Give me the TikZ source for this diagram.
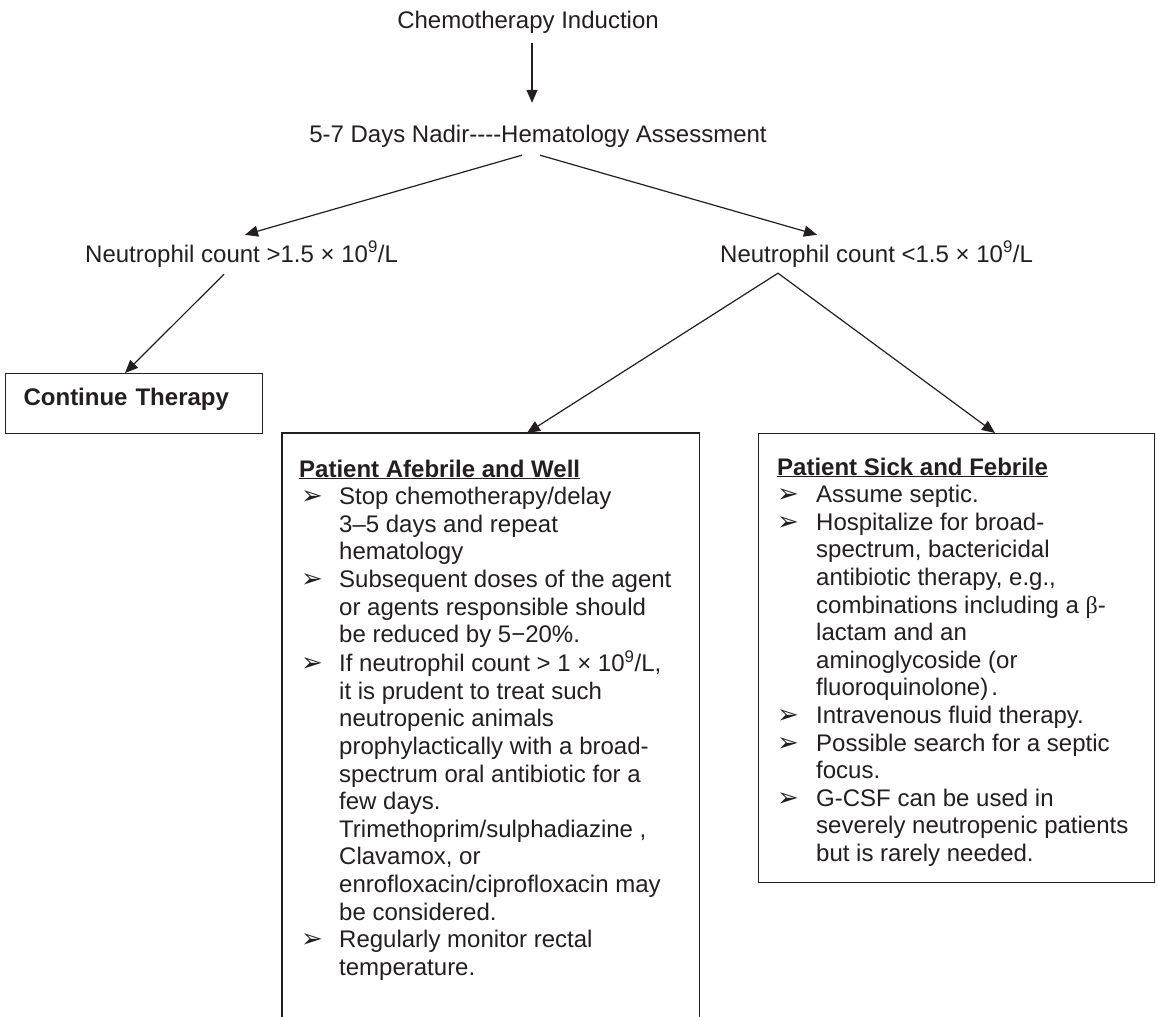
\documentclass[tikz,border=0pt]{standalone}
\usepackage{fontspec}
\setmainfont{Liberation Sans}
\newfontfamily\dejavu{DejaVu Sans}
\newfontfamily\serifgr{Liberation Serif}
\usetikzlibrary{arrows.meta,calc}
\definecolor{ink}{HTML}{231F20}
\newcommand{\bul}{{\dejavu\fontsize{26}{26}\selectfont ➢}}
\begin{document}
\begin{tikzpicture}[x=1pt,y=-1pt,
  every node/.style={inner sep=0pt, text=ink, font=\fontsize{24}{27.6}\selectfont},
  lbl/.style={text height=18pt, text depth=6pt},
  arr/.style={draw=ink, line width=1.2pt, -{Triangle[length=13pt,width=11pt]}},
  arrtwo/.style={draw=ink, line width=1.2pt, {Triangle[length=13pt,width=11pt]}-{Triangle[length=13pt,width=11pt]}},
  ln/.style={draw=ink, line width=1.2pt}]
\useasboundingbox[fill=white] (0,0) rectangle (1157,1017);

\node[lbl, anchor=base] (chemo) at (528,28) {Chemotherapy Induction};
\node[lbl, anchor=base] (nadir) at (538,142) {5-7 Days Nadir-{}-{}-{}-Hematology Assessment};
\node[lbl, anchor=base west] (lo) at (85,262) {Neutrophil count >1.5 × 10\textsuperscript{9}/L};
\node[lbl, anchor=base west] (hi) at (720,262) {Neutrophil count <1.5 × 10\textsuperscript{9}/L};

\node[draw=ink, line width=1.2pt, minimum width=257pt, minimum height=60pt,
      anchor=north west, text width=221pt, align=left, text height=18pt, text depth=14pt,
      inner xsep=18pt, font=\fontsize{24}{27.6}\selectfont\bfseries] (cont) at (5,373) {Continue Therapy};

\node[minimum width=417pt, minimum height=586pt, anchor=north west] (afebbox) at (282,433) {};
\draw[ln] (afebbox.south west) -- (afebbox.north west) -- (afebbox.north east) -- (afebbox.south east);

\node[draw=ink, line width=1.2pt, minimum width=396pt, minimum height=449pt, anchor=north west] (sickbox) at (758,433) {};

\node[anchor=base west] (afebtxt) at (299,477) {\begin{tabular}[t]{@{\hspace{2pt}}p{38pt}@{}l@{}}
\multicolumn{2}{@{}l@{}}{\textbf{\underline{Patient Afebrile and Well}}}\\
\bul & Stop chemotherapy/delay\\
 & 3–5 days and repeat\\
 & hematology\\
\bul & Subsequent doses of the agent\\
 & or agents responsible should\\
 & be reduced by 5−20\%.\\
\bul & If neutrophil count > 1 × 10\textsuperscript{9}/L,\\
 & it is prudent to treat such\\
 & neutropenic animals\\
 & prophylactically with a broad-\\
 & spectrum oral antibiotic for a\\
 & few days.\\
 & Trimethoprim/sulphadiazine ,\\
 & Clavamox, or\\
 & enrofloxacin/ciprofloxacin may\\
 & be considered.\\
\bul & Regularly monitor rectal\\
 & temperature.
\end{tabular}};

\node[anchor=base west] (sicktxt) at (777,475) {\begin{tabular}[t]{@{\hspace{0pt}}p{39pt}@{}l@{}}
\multicolumn{2}{@{}l@{}}{\textbf{\underline{Patient Sick and Febrile}}}\\
\bul & Assume septic.\\
\bul & Hospitalize for broad-\\
 & spectrum, bactericidal\\
 & antibiotic therapy, e.g.,\\
 & combinations including a {\serifgr β}-\\
 & lactam and an\\
 & aminoglycoside (or\\
 & fluoroquinolone)\hspace{3pt}.\\
\bul & Intravenous fluid therapy.\\
\bul & Possible search for a septic\\
 & focus.\\
\bul & G-CSF can be used in\\
 & severely neutropenic patients\\
 & but is rarely needed.
\end{tabular}};

\draw[arr] ($(chemo.south)+(4,9)$) -- ($(nadir.north)+(-6,-21)$);
\draw[arr] ($(nadir.south)+(-16,7)$) -- ($(lo.north west)+(160,-9)$);
\draw[arr] ($(nadir.south)+(2,7)$) -- ($(hi.north west)+(97,-9)$);
\draw[arr] ($(lo.south west)+(139,6)$) -- ($(cont.north west)+(120,0)$);
\draw[arrtwo] ($(afebbox.north west)+(245,0)$) -- ($(hi.south west)+(58,5)$) -- ($(sickbox.north west)+(237,0)$);
\end{tikzpicture}
\end{document}
